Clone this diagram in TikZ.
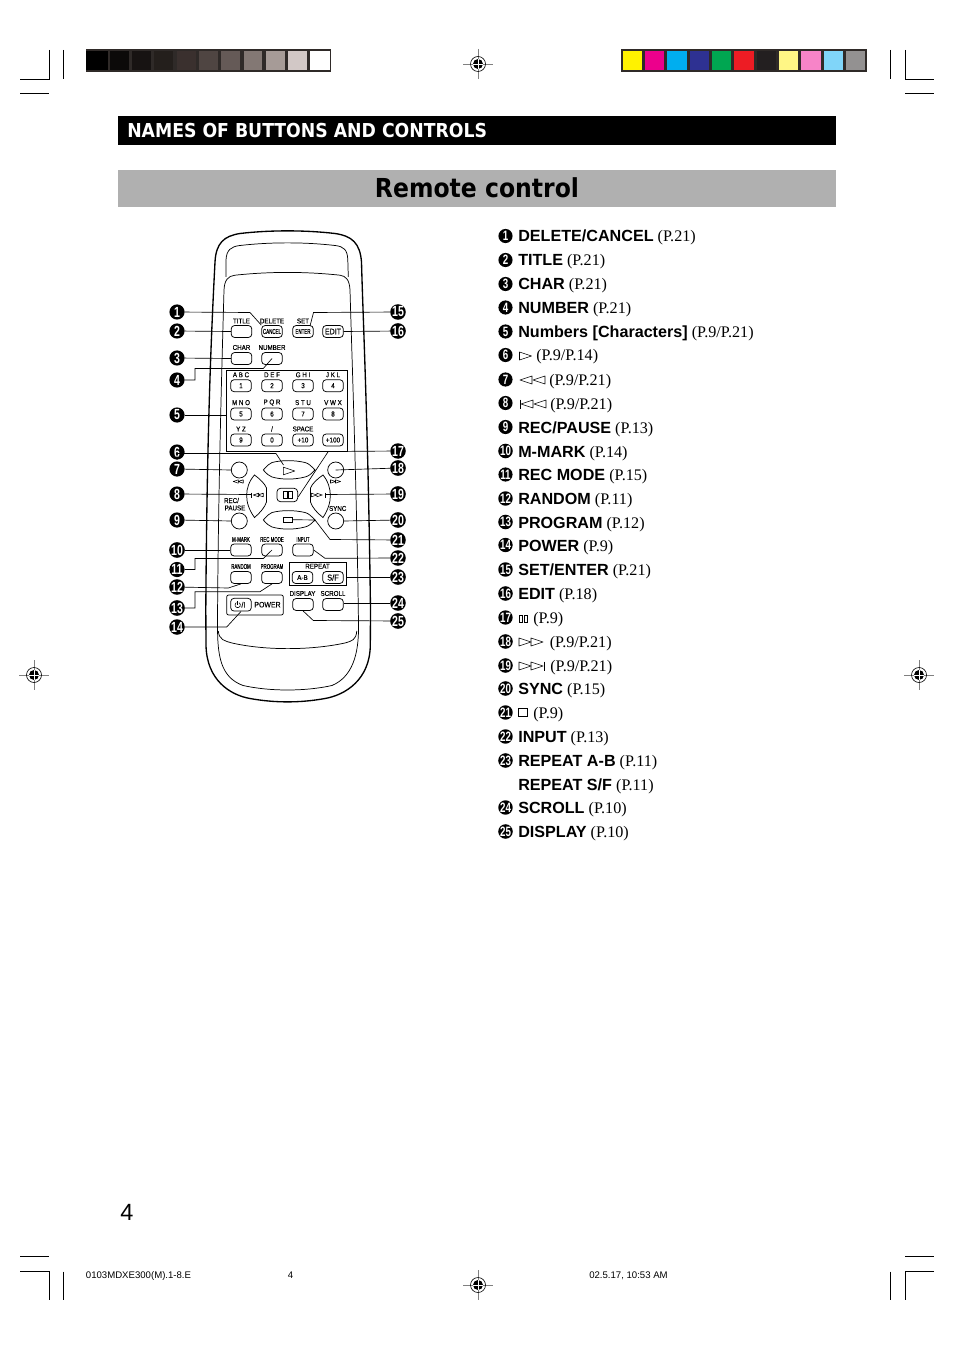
\documentclass[tikz,border=0pt]{standalone}
\usepackage{fontspec}
\setmainfont{Liberation Serif}
\setsansfont{Liberation Sans}
\newfontfamily\headf[FakeStretch=0.9]{DejaVu Sans}
\newfontfamily\numf[FakeStretch=0.72]{Liberation Sans}
\newfontfamily\narrowf[FakeStretch=0.62,FakeBold=0.15]{Liberation Sans}
\newfontfamily\labf[FakeStretch=0.88,FakeBold=0.15]{Liberation Sans}
\newcommand{\listb}[1]{\textsf{\bfseries #1}}
\definecolor{fr}{HTML}{2F2A28}
\tikzset{
  x=0.75pt,y=-0.75pt,
  cropmark/.style={line width=0.6pt,black},
  lead/.style={line width=0.5pt,black},
  bodyline/.style={line width=1pt,black,line join=round},
  innerline/.style={line width=0.55pt,black},
  btn/.style={draw,line width=0.55pt,rounded corners=2.6pt,minimum width=15.5pt,minimum height=9pt,inner sep=0pt,font=\labf\fontsize{5.4}{6}\selectfont},
  circbtn/.style={draw,circle,line width=0.55pt,minimum size=12pt,inner sep=0pt},
  lab/.style={inner sep=0pt,font=\labf\fontsize{5.3}{6}\selectfont},
  nlab/.style={inner sep=0pt,font=\narrowf\fontsize{5.3}{6}\selectfont},
  num/.style={circle,fill=black,text=white,minimum size=11.4pt,inner sep=0pt,font=\numf\bfseries\fontsize{11}{12}\selectfont},
  listnum/.style={num,minimum size=10.6pt,font=\numf\bfseries\fontsize{10.2}{11}\selectfont},
  listitem/.style={anchor=base west,inner sep=0pt,font=\fontsize{12.1}{14}\selectfont},
  foot/.style={inner sep=0pt,font=\sffamily\fontsize{7.2}{8}\selectfont},
  iconline/.style={line width=0.45pt,black,line join=round},
  regmark/.pic={
    \draw[line width=0.35pt,gray] (-15,0) -- (15,0) (0,-15) -- (0,15);
    \draw[line width=0.45pt] (0,0) circle[radius=7.5];
    \fill (0,0) circle[radius=5];
    \draw[white,line width=0.5pt] (-5,0) -- (5,0) (0,-5) -- (0,5);
  },
  lefttri/.pic={\draw[iconline] (6,-4) -- (-6,0) -- (6,4) -- cycle;},
  righttri/.pic={\draw[iconline] (-6,-4) -- (6,0) -- (-6,4) -- cycle;},
  pausebars/.pic={\draw[line width=0.3pt,black] (-4,-3.5) rectangle (-0.9,3.5) (0.9,-3.5) rectangle (4,3.5);},
}
\begin{document}
\begin{tikzpicture}
\useasboundingbox (0,0) rectangle (954,1351);
\fill[white] (0,0) rectangle (954,1351);

% crop marks
\draw[cropmark] (49.3,50) -- (49.3,79.3) -- (20,79.3) (63.3,50) -- (63.3,79.3) (20,93) -- (49,93);
\draw[cropmark] (890.7,50) -- (890.7,79.3) (905.3,50) -- (905.3,79.3) -- (934,79.3) (905,93) -- (934,93);
\draw[cropmark] (20,1256) -- (49,1256) (20,1271.7) -- (49.3,1271.7) -- (49.3,1300) (63.3,1271.7) -- (63.3,1300);
\draw[cropmark] (905,1256) -- (934,1256) (934,1271.7) -- (905.3,1271.7) -- (905.3,1300) (890.7,1271.7) -- (890.7,1300);

% registration marks
\pic at (478,64) {regmark};
\pic at (34,675) {regmark};
\pic at (919,675) {regmark};
\pic at (478,1285) {regmark};

% grey bar
\fill[fr] (86,49) rectangle (331,72);
\foreach \a/\b/\c in {86/107.5/000000,110/129/0C0A09,132/151/171312,154/173/241F1C,177/196/3A302E,199/218/4F4542,221/240/655A57,244/262/837874,266/285/A69B97,288/307/D2C8C6,310/329.5/FFFFFF}{
  \definecolor{sw}{HTML}{\c}
  \fill[sw] (\a,51) rectangle (\b,70);
}
% colour bar
\fill[fr] (621,49) rectangle (867,72);
\foreach \a/\b/\c in {623/642/FFF200,645/664/EC008C,667/687/00AEEF,690/709/2E3192,712/731/00A651,734/754/ED1C24,757/776/231F20,779/798/FFF685,801/821/F784C8,824/843/80D5F9,846/865/939191}{
  \definecolor{sw}{HTML}{\c}
  \fill[sw] (\a,51) rectangle (\b,70);
}

% headers
\fill[black] (118,116) rectangle (836,145);
\node[anchor=base west,inner sep=0pt,text=white,font=\headf\bfseries\fontsize{14.4}{16}\selectfont] (hdr) at (127,138) {NAMES OF BUTTONS AND CONTROLS};
\fill[black!31] (118,170) rectangle (836,207);
\node[anchor=base,inner sep=0pt,font=\headf\bfseries\fontsize{19.6}{22}\selectfont] (sub) at (477,198) {Remote control};

% remote body
\draw[bodyline] (215,262) .. controls (216,243) and (224,236) .. (240,233.5) .. controls (270,230) and (305,230) .. (335,233.5) .. controls (352,236) and (360,243) .. (361.5,262)
  .. controls (363,320) and (368,420) .. (370.5,610) -- (370.3,645) .. controls (370,680) and (345,695) .. (325,698.5) .. controls (300,703) and (275,703) .. (250,698.5) .. controls (230,695) and (206.5,680) .. (206,645) -- (205.8,610)
  .. controls (207,420) and (212,320) .. (215,262) -- cycle;
\draw[innerline] (226,277) -- (226,260) .. controls (226.5,250) and (231,246.5) .. (240,245.5) .. controls (270,242) and (305,242) .. (335,245.5) .. controls (344,246.5) and (347.5,250) .. (347.8,260) -- (348.3,277);
\draw[innerline] (217.5,625) .. controls (218,500) and (222,360) .. (224,290) .. controls (224.5,280) and (228,276) .. (235,275.2) .. controls (270,271.5) and (305,271.5) .. (340,275.2) .. controls (346,276) and (349.5,280) .. (350,290) .. controls (352,360) and (357,500) .. (358.5,625);
\draw[innerline] (217.5,625) .. controls (217.5,655) and (220,677) .. (243,685.5) .. controls (270,691.5) and (305,691.5) .. (332,685.5) .. controls (352,677) and (359,655) .. (358.5,625);
\draw[innerline] (218.3,631) .. controls (219,640) and (225,641) .. (232,643) .. controls (265,650.5) and (310,650.5) .. (345,643) .. controls (352,641) and (356,640) .. (356.8,631);

% top buttons
\node[btn,font=\narrowf\fontsize{5.4}{6}\selectfont] (bCancel) at (272,331.5) {CANCEL};
\node[btn] (bTitle) at (241.5,331.5) {};
\node[btn,font=\narrowf\fontsize{5.4}{6}\selectfont] (bEnter) at (303,331.5) {ENTER};
\node[btn,font=\labf\fontsize{6}{6}\selectfont] (bEdit) at (333,331.5) {EDIT};
\node[lab] (lTitle) at (241.5,321) {TITLE};
\node[lab] (lDelete) at (272,321) {DELETE};
\node[lab] (lSet) at (303,321) {SET};
\node[btn] (bChar) at (241.5,358.5) {};
\node[btn] (bNumber) at (272,358.5) {};
\node[lab] (lChar) at (241.5,347.5) {CHAR};
\node[lab] (lNumber) at (272,347.5) {NUMBER};
\coordinate (cEnter) at (310,326);

% keypad
\draw[innerline] (226.7,370.7) rectangle (347.7,451);
\foreach \nm/\x/\y/\t in {k1/241/385.7/1,k2/272/385.7/2,k3/303/385.7/3,k4/333/385.7/4,k5/241/414/5,k6/272/414/6,k7/303/414/7,k8/333/414/8,k9/241/440/9,k0/272/440/0,kten/303/440/+10,khund/333/440/+100}{
  \node[btn] (\nm) at (\x,\y) {\t};
}
\foreach \nm/\x/\y/\t in {la/241/374.8/A B C,lb/272/374.8/D E F,lc/303/374.8/G H I,ld/333/374.8/J K L,le/241/402.6/M N O,lf/272/402.6/P Q R,lg/303/402.6/S T U,lh/333/402.6/V W X,li/241/429/Y Z,lj/272/429/\slash,lk/303/429/SPACE}{
  \node[lab] (\nm) at (\x,\y) {\t};
}

% transport
\draw[innerline,fill=white] (263.3,470) .. controls (267,466) and (269,463.5) .. (272,462.5) .. controls (282,460) and (294,460) .. (305,462.5) .. controls (309,463.5) and (311,466) .. (315,470) .. controls (311,474) and (309,476) .. (305,477) .. controls (294,479.8) and (282,479.8) .. (272,477) .. controls (269,476) and (267,474) .. (263.3,470) -- cycle;
\coordinate (cPlay) at (283.5,465);
\pic[scale=0.95] at (289,471) {righttri};
\draw[innerline,fill=white] (263.3,520) .. controls (267,516) and (269,513.5) .. (272,512.5) .. controls (282,510) and (294,510) .. (305,512.5) .. controls (309,513.5) and (311,516) .. (315,520) .. controls (311,524) and (309,526) .. (305,527) .. controls (294,529.8) and (282,529.8) .. (272,527) .. controls (269,526) and (267,524) .. (263.3,520) -- cycle;
\node[draw,line width=0.55pt,minimum width=6.6pt,minimum height=3.9pt,inner sep=0pt] (stopsq) at (287.7,519.7) {};
\draw[innerline,fill=white] (254.5,475) .. controls (260,479) and (265,484) .. (266.5,488) -- (266.5,502) .. controls (265,507) and (260,513) .. (254.5,517.5) .. controls (249,510) and (246.5,502) .. (246.7,495.5) .. controls (246.5,489) and (249,481) .. (254.5,475) -- cycle;
\draw[innerline,fill=white] (323,475) .. controls (317,479) and (312,484) .. (310.5,488) -- (310.5,502) .. controls (312,507) and (317,513) .. (323,517.5) .. controls (328,510) and (330.5,502) .. (330.3,495.5) .. controls (330.5,489) and (328,481) .. (323,475) -- cycle;
\node[btn,minimum height=10pt] (bPause) at (287.3,495) {};
\draw[line width=0.3pt] (283.5,491.5) rectangle (287,498.5) (288.5,491.5) rectangle (292,498.5);
\pic[scale=0.45] at (256,495) {lefttri};
\pic[scale=0.45] at (260.5,495) {lefttri};
\draw[line width=0.45pt] (251.7,492.5) -- (251.7,497.5);
\pic[scale=0.45] at (314,495) {righttri};
\pic[scale=0.45] at (319.5,495) {righttri};
\draw[line width=0.45pt] (325,492.5) -- (325,497.5);
\node[circbtn] (c7) at (239.3,470) {};
\node[circbtn] (c18) at (335.7,470) {};
\node[circbtn] (c9) at (239.3,521) {};
\node[circbtn] (c20) at (335.7,521) {};
\pic[scale=0.42] at (235.8,481.5) {lefttri};
\pic[scale=0.42] at (240.7,481.5) {lefttri};
\pic[scale=0.42] at (333,481.5) {righttri};
\pic[scale=0.42] at (338,481.5) {righttri};
\node[lab] (lRec) at (231.5,500.5) {REC/};
\node[lab] (lPause) at (235,508) {PAUSE};
\node[lab] (lSync) at (337.7,508.5) {SYNC};

% lower buttons
\node[btn] (bMark) at (241,550) {};
\node[btn] (bRecMode) at (272,550) {};
\node[btn] (bInput) at (303,550) {};
\node[nlab] (lMark) at (241,539.5) {M-MARK};
\node[nlab] (lRecMode) at (272,539.5) {REC MODE};
\node[nlab] (lInput) at (303,539.5) {INPUT};
\node[btn] (bRandom) at (241,577.5) {};
\node[btn] (bProgram) at (272,577.5) {};
\node[nlab] (lRandom) at (241,566.5) {RANDOM};
\node[nlab] (lProgram) at (272,566.5) {PROGRAM};
\node[draw,line width=0.55pt,minimum width=43pt,minimum height=17.8pt,inner sep=0pt] (boxRepeat) at (318,573.8) {};
\node[lab] (lRepeat) at (317.5,566.3) {REPEAT};
\node[btn] (bAB) at (302.5,577.5) {A-B};
\node[btn,font=\labf\fontsize{6.4}{7}\selectfont] (bSF) at (333,577.5) {S/F};
\node[draw,line width=0.55pt,rounded corners=1.5pt,minimum width=42.5pt,minimum height=15pt,inner sep=0pt] (boxPower) at (255,605) {};
\node[btn,minimum height=9.6pt] (bPower) at (241,604.7) {};
\draw[line width=0.45pt] (239.05,602.66) arc[start angle=-60,end angle=240,radius=2.7];
\draw[line width=0.45pt] (237.7,601) -- (237.7,604.5);
\node[lab,anchor=west,font=\labf\fontsize{6}{7}\selectfont] (lSlash) at (241.2,604.7) {/I};
\node[lab,font=\labf\fontsize{5.9}{7}\selectfont] (lPower) at (267.5,604.7) {POWER};
\node[lab] (lDisplay) at (302.5,593.5) {DISPLAY};
\node[lab] (lScroll) at (333,593.5) {SCROLL};
\node[btn] (bDisplay) at (303,604.5) {};
\node[btn] (bScroll) at (333,604.5) {};

% callout numbers, left and right
\foreach \n/\y in {1/312,2/331,3/358,4/380,5/415,6/452,7/469,8/494,9/520,10/550,11/569.5,12/587,13/608,14/627}{
  \node[num] (n\n) at (177,\y) {\n};
}
\foreach \n/\y in {15/312,16/331,17/451,18/468,19/494,20/520,21/540,22/558,23/577,24/603,25/621}{
  \node[num] (n\n) at (398,\y) {\n};
}

% connectors
\draw[lead] (n1) -- (250,312.5) -- (bCancel.north west);
\draw[lead] (n2) -- (bTitle.west);
\draw[lead] (n3) -- (bChar.west);
\draw[lead] (n4) -- (195,380) -- (195,368.5) -- (263.3,368.5) -- (bNumber.center);
\draw[lead] (n5) -- (226.7,415);
\draw[lead] (n6) -- (177,453.5) -- (276,453.5) -- (cPlay);
\draw[lead] (n7) -- (c7.west);
\draw[lead] (n8) -- (251.7,494.5);
\draw[lead] (n9) -- (c9.west);
\draw[lead] (n10) -- (bMark.west);
\draw[lead] (n11) -- (195,569.5) -- (195,558.5) -- (263.3,558.5) -- (bRecMode.center);
\draw[lead] (n12) -- (228.3,588) -- (bRandom.south);
\draw[lead] (n13) -- (195,608) -- (195,591.7) -- (260,591.7) -- (bProgram.south);
\draw[lead] (n14) -- (226.7,627) -- (bPower.south);
\draw[lead] (n15) -- (313.5,312.5) -- (cEnter);
\draw[lead] (n16) -- (bEdit.east);
\draw[lead] (n17) -- (328.3,451.5) -- (298.3,496.7);
\draw[lead] (n18) -- (c18.center);
\draw[lead] (n19) -- (325,494.5);
\draw[lead] (n20) -- (c20.east);
\draw[lead] (n21) -- (330,539.5) -- (315,520) -- (stopsq.east);
\draw[lead] (n22) -- (325,558.3) -- (bInput.east);
\draw[lead] (n23) -- (boxRepeat.east |- n23);
\draw[lead] (n24) -- (bScroll.east |- n24);
\draw[lead] (n25) -- (313.3,620.5) -- (bDisplay.south);

% list
\foreach \n/\y in {1/236,2/260,3/284,4/307.5,5/331.5,6/355,7/379.5,8/403,9/427,10/451,11/474.5,12/498.5,13/522,14/545,15/569.5,16/593.5,17/617.5,18/641.5,19/665.5,20/688.5,21/712.5,22/736.5,23/760.5,24/807.5,25/831.5}{
  \node[listnum] (m\n) at (505.5,\y) {\n};
}
\foreach \nm/\y/\b/\r in {
  t1/242/DELETE\slash CANCEL/(P.21),t2/266/TITLE/(P.21),t3/290/CHAR/(P.21),t4/313.5/NUMBER/(P.21),
  t5/337.5/Numbers [Characters]/(P.9\slash P.21),t9/433/REC\slash PAUSE/(P.13),t10/457/M-MARK/(P.14),
  t11/480.5/REC MODE/(P.15),t12/504.5/RANDOM/(P.11),t13/528/PROGRAM/(P.12),t14/551/POWER/(P.9),
  t15/575.5/SET\slash ENTER/(P.21),t16/599.5/EDIT/(P.18),t20/694.5/SYNC/(P.15),t22/742.5/INPUT/(P.13),
  t23/766.5/REPEAT A-B/(P.11),t23b/790.5/REPEAT S\slash F/(P.11),t24/813.5/SCROLL/(P.10),t25/837.5/DISPLAY/(P.10)}{
  \node[listitem] (\nm) at (518,\y) {\listb{\b} \r};
}
\foreach \nm/\x/\y/\r in {t6/536/361/(P.9\slash P.14),t7/549/385.5/(P.9\slash P.21),t8/550/409/(P.9\slash P.21),t17/533/623.5/(P.9),t18/549.5/647.5/(P.9\slash P.21),t19/550/671.5/(P.9\slash P.21),t21/533/718.5/(P.9)}{
  \node[listitem] (\nm) at (\x,\y) {\r};
}
% list icons
\pic at (525.5,356) {righttri};
\pic at (526,380) {lefttri};
\pic at (539,380) {lefttri};
\pic at (527,404) {lefttri};
\pic at (540,404) {lefttri};
\draw[iconline] (520,399.5) -- (520,408.5);
\pic at (523.3,618.3) {pausebars};
\pic at (525,642) {righttri};
\pic at (537,642) {righttri};
\pic at (525,666) {righttri};
\pic at (537,666) {righttri};
\draw[iconline] (544,661.5) -- (544,670.5);
\draw[line width=0.6pt] (518.8,708.3) rectangle (527.8,716.7);

% page texts
\node[anchor=base west,inner sep=0pt,font=\sffamily\fontsize{17.6}{20}\selectfont] (pg) at (120,1220) {4};
\node[foot,anchor=base west] (f1) at (85.7,1278.5) {0103MDXE300(M).1-8.E};
\node[foot,anchor=base] (f2) at (290.5,1278.5) {4};
\node[foot,anchor=base west] (f3) at (589,1278.5) {02.5.17, 10:53 AM};
\end{tikzpicture}
\end{document}
